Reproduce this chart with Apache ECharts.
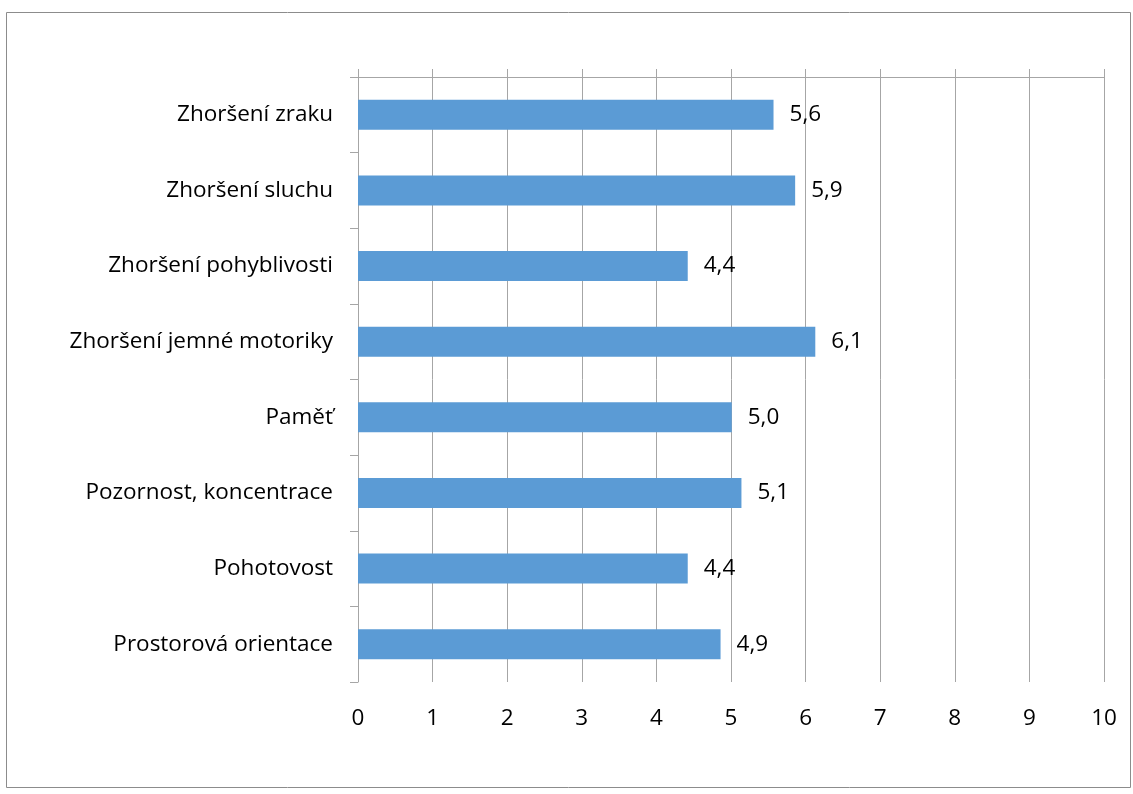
<!DOCTYPE html>
<html><head><meta charset="utf-8">
<script src="https://cdn.jsdelivr.net/npm/echarts@6/dist/echarts.min.js"></script>
<style>html,body{margin:0;padding:0;background:#fff}#c{width:1133px;height:794px}</style>
</head><body><div id="c"></div>
<script>
const categories = ["Zhoršení zraku","Zhoršení sluchu","Zhoršení pohyblivosti","Zhoršení jemné motoriky","Paměť","Pozornost, koncentrace","Pohotovost","Prostorová orientace"];
const values = [5.57, 5.86, 4.42, 6.13, 5.01, 5.14, 4.42, 4.86];
const xTicks = [0,1,2,3,4,5,6,7,8,9,10];

const font = "'Open Sans', 'Noto Sans', sans-serif";
const fs = 22.5;
const chart = echarts.init(document.getElementById('c'), null, {renderer:'canvas'});
const gridColor = '#a6a6a6';
chart.setOption({
  animation:false,
  graphic:[{type:'rect',shape:{x:6.5,y:12.5,width:1124,height:775},style:{fill:'none',stroke:'#8c8c8c',lineWidth:1},silent:true,z:-1}],
  grid:{left:358,right:29,top:77,bottom:112,containLabel:false},
  xAxis:[{
    type:'value',min:xTicks[0],max:xTicks[xTicks.length-1],interval:1,position:'bottom',
    axisLine:{show:false},axisTick:{show:false},
    axisLabel:{color:'#000',fontSize:fs,fontFamily:font,margin:25},
    splitLine:{show:true,lineStyle:{color:gridColor,width:1}}
  },{
    type:'value',min:xTicks[0],max:xTicks[xTicks.length-1],interval:1,position:'top',
    axisLine:{show:true,lineStyle:{color:gridColor}},
    axisTick:{show:true,inside:false,length:8,lineStyle:{color:gridColor}},
    axisLabel:{show:false},splitLine:{show:false}
  }],
  yAxis:{
    type:'category',data:categories,inverse:true,
    axisLine:{show:true,lineStyle:{color:gridColor}},
    axisTick:{show:true,length:8,lineStyle:{color:gridColor}},
    axisLabel:{color:'#000',fontSize:fs,fontFamily:font,margin:25},
    splitLine:{show:false}
  },
  series:[{
    type:'bar',data:values,barWidth:30,xAxisIndex:0,
    itemStyle:{color:'#5b9bd5'},
    label:{show:true,position:'right',distance:16,color:'#000',fontSize:fs,fontFamily:font,
      formatter:p=>p.value.toFixed(1).replace('.',',')}
  }]
});
</script></body></html>
